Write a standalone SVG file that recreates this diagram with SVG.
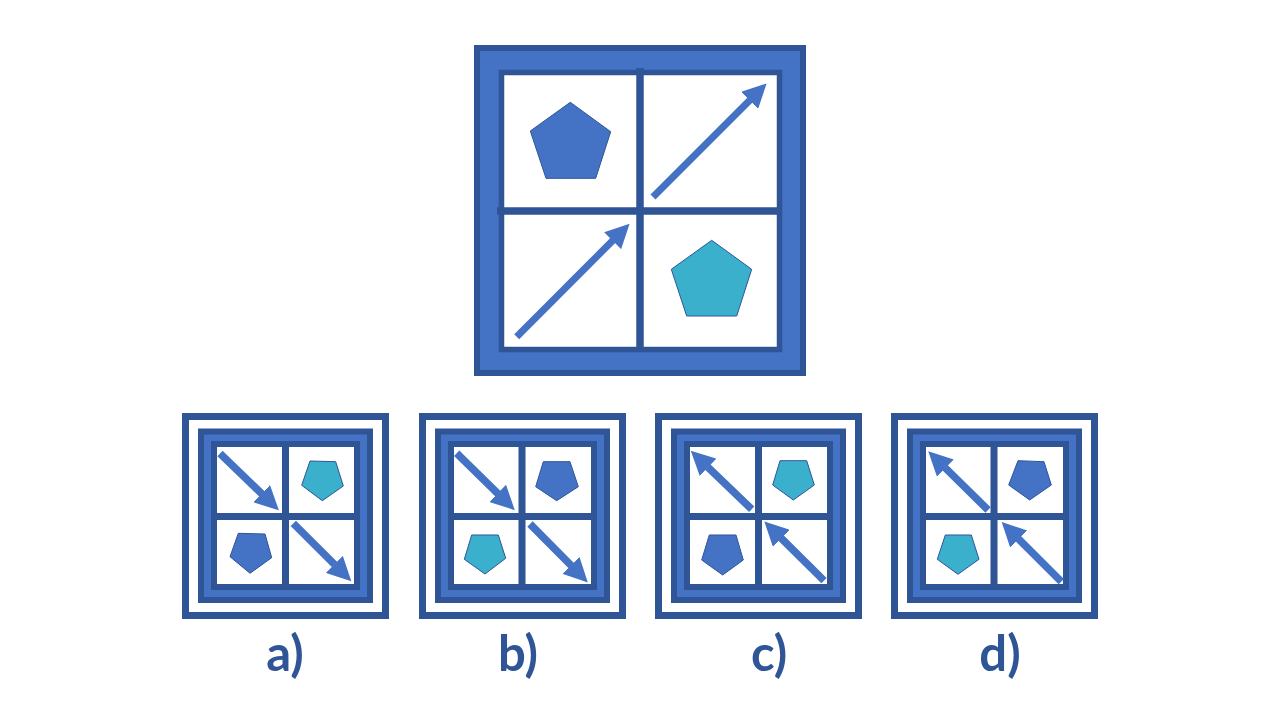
<svg xmlns="http://www.w3.org/2000/svg" width="1280" height="720" viewBox="0 0 1280 720">
<style>
.dk{fill:none;stroke:#2F5597}
.mid{fill:#4472C4;stroke:#2F5597}
.wh{fill:#FFFFFF;stroke:#2F5597}
.div{stroke:#2F5597;stroke-linecap:butt}
.arr{stroke:#4472C4;stroke-width:7;fill:none;marker-end:url(#head)}
.arr.s{stroke-width:7.5}
.pb{fill:#4472C4;stroke:#2F5597;stroke-width:1}
.pc{fill:#3BB0CC;stroke:#2F5597;stroke-width:1}
.lbl{font-family:Lato,"Open Sans","Liberation Sans",sans-serif;font-weight:bold;font-size:49px;fill:#2F5597;text-anchor:middle}
</style>
<defs>
<marker id="head" markerUnits="userSpaceOnUse" markerWidth="25" markerHeight="24" viewBox="0 0 25 24" refX="0.5" refY="12" orient="auto">
<path d="M0,0 L24,12 L0,24 z" fill="#4472C4"/>
</marker>
</defs>
<rect width="1280" height="720" fill="#FFFFFF"/>

<g id="main">
<rect class="mid" x="477" y="48" width="326" height="325" stroke-width="6"/>
<rect class="wh" x="501.5" y="72.5" width="278" height="277" stroke-width="5.5"/>
<line class="div" x1="640" y1="68" x2="640" y2="347" stroke-width="7.5"/>
<line class="div" x1="497" y1="211" x2="782" y2="211" stroke-width="7.5"/>
<polygon class="pb" points="570.3,102.3 610.7,131.7 595.7,178.3 546,178.3 530.3,131"/>
<polygon class="pc" points="711.7,240.3 751.7,269.3 736.7,316 686.7,316 671.3,269.3"/>
</g>

<g id="option-a">
<rect class="wh" x="185.5" y="416.5" width="200" height="199" stroke-width="7"/>
<rect class="mid" x="201" y="431.5" width="169" height="168.5" stroke-width="6"/>
<rect class="wh" x="214" y="444" width="143" height="143" stroke-width="6"/>
<line class="div" x1="285.5" y1="441" x2="285.5" y2="590" stroke-width="7"/>
<line class="div" x1="211" y1="516.5" x2="360" y2="516.5" stroke-width="7"/>
<polygon class="pc" points="310,461 335.7,461.7 343.3,486 322.3,500.7 301.7,485.3"/>
<polygon class="pb" points="238.3,533.3 265,534 271.7,557.7 250,573.3 230,556.7"/>
</g>

<g id="option-b">
<rect class="wh" x="422.5" y="416.5" width="200" height="199" stroke-width="7"/>
<rect class="mid" x="438" y="431.5" width="169" height="168.5" stroke-width="6"/>
<rect class="wh" x="451" y="444" width="143" height="143" stroke-width="6"/>
<line class="div" x1="522" y1="441" x2="522" y2="590" stroke-width="7"/>
<line class="div" x1="448" y1="516.5" x2="597" y2="516.5" stroke-width="7"/>
<polygon class="pb" points="543.3,461.7 570,461.7 578.3,486.7 556.7,500.7 535.7,486.7"/>
<polygon class="pc" points="471.7,535 498.3,535 505.7,558.3 485,574 464.3,559.3"/>
</g>

<g id="option-c">
<rect class="wh" x="658.5" y="416.5" width="200" height="199" stroke-width="7"/>
<rect class="mid" x="674" y="431.5" width="169" height="168.5" stroke-width="6"/>
<rect class="wh" x="687" y="444" width="143" height="143" stroke-width="6"/>
<line class="div" x1="758.5" y1="441" x2="758.5" y2="590" stroke-width="7"/>
<line class="div" x1="684" y1="516.5" x2="833" y2="516.5" stroke-width="7"/>
<polygon class="pc" points="780,460.7 806.7,460.7 814.3,485 793.3,500 772.7,485"/>
<polygon class="pb" points="709.3,535 736,535 743.3,560 722.7,575 701.7,560"/>
</g>

<g id="option-d">
<rect class="wh" x="894.5" y="416.5" width="200" height="199" stroke-width="7"/>
<rect class="mid" x="910" y="431.5" width="169" height="168.5" stroke-width="6"/>
<rect class="wh" x="923" y="444" width="143" height="143" stroke-width="6"/>
<line class="div" x1="994" y1="441" x2="994" y2="590" stroke-width="7"/>
<line class="div" x1="920" y1="516.5" x2="1069" y2="516.5" stroke-width="7"/>
<polygon class="pb" points="1018,460.7 1044,461.7 1051.3,485 1029.7,500 1008.7,485"/>
<polygon class="pc" points="945.3,535 971.3,535 979,559.3 958,574.3 937.3,559.3"/>
</g>

<g id="connectors">
<line class="arr" x1="653" y1="197" x2="750" y2="100"/>
<line class="arr" x1="516.7" y1="336.7" x2="613" y2="240.3"/>
<line class="arr s" x1="220" y1="453.5" x2="262" y2="494"/>
<line class="arr s" x1="293.3" y1="523.3" x2="334.7" y2="564.7"/>
<line class="arr s" x1="456.7" y1="453.3" x2="498" y2="493.7"/>
<line class="arr s" x1="530" y1="524" x2="571.3" y2="565.7"/>
<line class="arr s" x1="751.7" y1="509.3" x2="707.7" y2="467"/>
<line class="arr s" x1="824" y1="580.7" x2="781" y2="538"/>
<line class="arr s" x1="988" y1="510" x2="945" y2="467.7"/>
<line class="arr s" x1="1061.3" y1="581.7" x2="1018.3" y2="538.7"/>
</g>

<g id="labels">
<text class="lbl" x="285" y="671">a)</text>
<text class="lbl" x="518" y="671">b)</text>
<text class="lbl" x="769" y="671">c)</text>
<text class="lbl" x="1000" y="671">d)</text>
</g>
</svg>
